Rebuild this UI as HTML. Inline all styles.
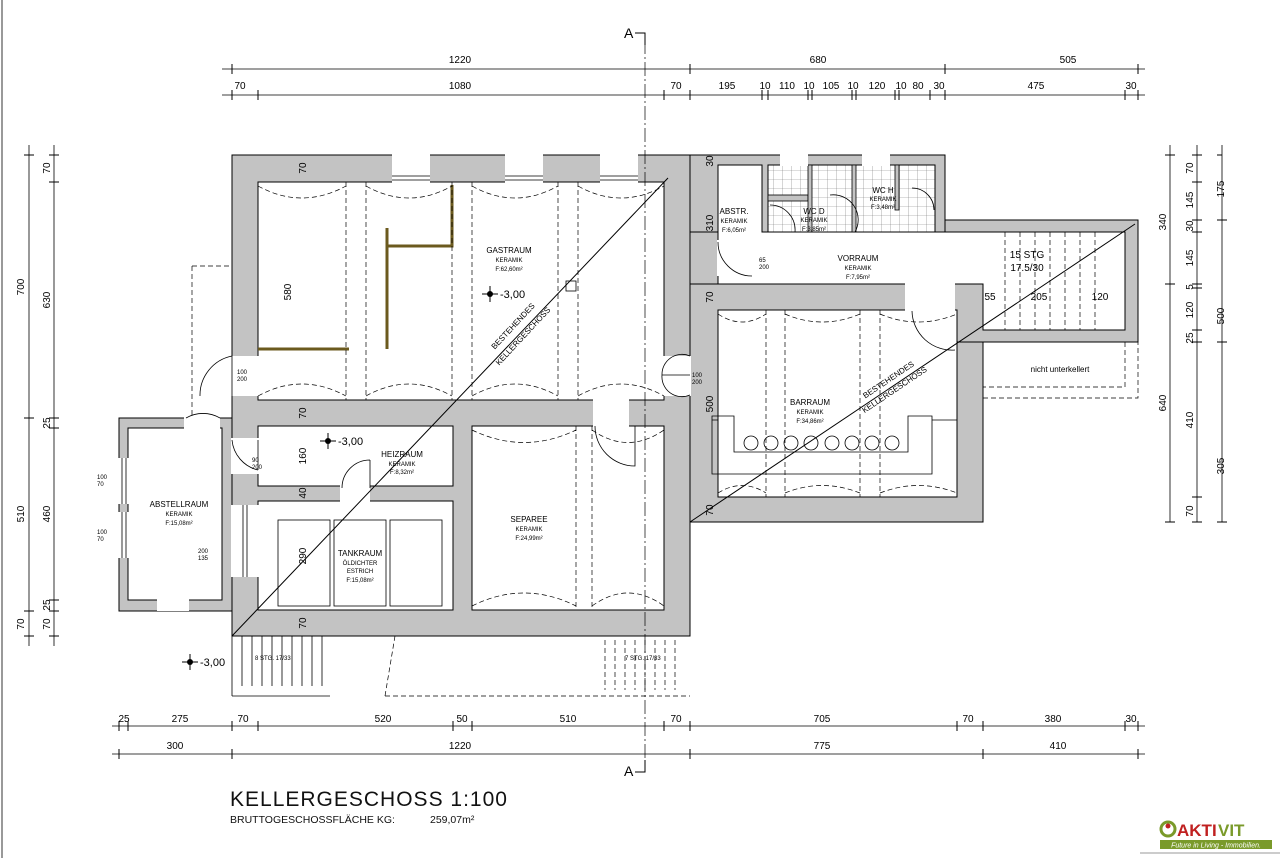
<!DOCTYPE html>
<html><head><meta charset="utf-8"><style>
html,body{margin:0;padding:0;background:#fff;}
svg{display:block;font-family:"Liberation Sans",sans-serif;}
</style></head><body>
<svg width="1280" height="858" viewBox="0 0 1280 858" xmlns="http://www.w3.org/2000/svg">
<defs>
<pattern id="tile" width="9" height="9" patternUnits="userSpaceOnUse"><rect width="9" height="9" fill="#fff"/><path d="M9 0V9M0 9H9" stroke="#777" stroke-width="0.6"/></pattern>
</defs>
<rect x="0" y="0" width="1280" height="858" fill="#fff"/>
<line x1="2" y1="0" x2="2" y2="858" stroke="#999" stroke-width="2"/>

<g fill="#c3c3c3" stroke="#000" stroke-width="1">
<rect x="232" y="155" width="458" height="481"/>
<rect x="690" y="155" width="255" height="80"/>
<rect x="690" y="232" width="28" height="60"/>
<rect x="690" y="284" width="293" height="238"/>
<rect x="945" y="220" width="193" height="122"/>
<rect x="119" y="418" width="113" height="193"/>
</g>
<g fill="#fff" stroke="#000" stroke-width="1">
<rect x="258" y="182" width="406" height="218"/>
<rect x="258" y="426" width="195" height="60"/>
<rect x="258" y="501" width="195" height="109"/>
<rect x="472" y="426" width="192" height="184"/>
<rect x="718" y="310" width="239" height="187"/>
<polygon points="718,165 762,165 762,232 983,232 983,232 1125,232 1125,330 983,330 983,284 718,284"/>
<rect x="128" y="428" width="94" height="172"/>
</g>
<rect x="768" y="165" width="167" height="67" fill="url(#tile)" stroke="#000"/>
<g fill="#c3c3c3" stroke="#000" stroke-width="0.8">
<rect x="768" y="195" width="40" height="6"/><rect x="808" y="165" width="4" height="67"/>
<rect x="852" y="165" width="4" height="67"/><rect x="895" y="165" width="4" height="45"/>
</g>
<g fill="#fff" stroke="none">
<rect x="231" y="356" width="28" height="40"/>
<rect x="663" y="356" width="28" height="40"/>
<rect x="392" y="154" width="38" height="29"/><rect x="505" y="154" width="38" height="29"/><rect x="600" y="154" width="38" height="29"/>
<rect x="780" y="154" width="28" height="12"/><rect x="862" y="154" width="28" height="12"/>
<rect x="184" y="417" width="36" height="12"/>
<rect x="231" y="438" width="28" height="36"/>
<rect x="340" y="485" width="30" height="17"/>
<rect x="593" y="399" width="36" height="28"/>
<rect x="157" y="599" width="32" height="12"/>
<rect x="118" y="458" width="12" height="46"/><rect x="118" y="512" width="12" height="46"/>
<rect x="231" y="505" width="28" height="72"/>
<rect x="717" y="240" width="3" height="36"/>
<rect x="905" y="283" width="50" height="28"/>
</g>
<g stroke="#000" stroke-width="0.8" fill="none">
<path d="M392 176H430M392 180H430M505 176H543M505 180H543M600 176H638M600 180H638"/>
<path d="M122 458V504M126 458V504M122 512V558M126 512V558M243 505V577M247 505V577"/>
<path d="M232 356 A40 40 0 0 0 200 396 M232 356 L232 396"/>
<path d="M690 356 A20 20 0 0 0 662 375 L690 375 M690 395 A20 20 0 0 1 662 375"/>
<path d="M220 418 A34 34 0 0 0 186 418"/>
<path d="M232 440 A34 34 0 0 0 258 470 M258 440 V470"/>
<path d="M370 460 A28 28 0 0 0 342 488 M370 460V488"/>
<path d="M595 426 A40 40 0 0 0 635 466 L635 426"/>
<path d="M718 242 A34 34 0 0 0 752 276"/>
<path d="M912 311 A40 40 0 0 0 955 350"/>
<path d="M770 205 A25 25 0 0 1 795 232 M830 195 A25 25 0 0 1 855 232 M912 188 A22 22 0 0 1 934 210"/>
</g>
<g stroke="#6b5a1e" stroke-width="3" fill="none">
<path d="M258 349H349M387 228V349M387 246H452V185"/>
</g>
<g stroke="#000" stroke-width="0.7" fill="none" stroke-dasharray="5,3">
<path d="M346 182V400M366 182V400M452 182V400M472 182V400M558 182V400M578 182V400"/>
<path d="M258 186 Q302 210 346 186 M366 186 Q409 210 452 186 M472 186 Q515 210 558 186 M578 186 Q621 210 664 186"/>
<path d="M258 396 Q302 372 346 396 M366 396 Q409 372 452 396 M472 396 Q515 372 558 396 M578 396 Q621 372 664 396"/>
<path d="M576 426V610M592 426V610 M472 430 Q524 455 576 430 M592 430 Q628 455 664 430 M472 606 Q524 580 576 606 M592 606 Q628 580 664 606"/>
<path d="M766 310V497M785 310V497M860 310V497M880 310V497M718 314 Q742 330 766 314 M785 314 Q822 330 860 314 M880 314 Q918 330 957 314 M718 493 Q742 478 766 493 M785 493 Q822 478 860 493 M880 493 Q918 478 957 493"/>
<path d="M192 266H232M192 266V418M983 342V398H1138V342M1125 342V387H983"/>
<path d="M1005 232V330M1020 232V330M1035 232V330M1050 232V330M1065 232V330M1080 232V330M1095 232V330"/>
<path d="M605 640V690M615 640V690M625 640V690M635 640V690M645 640V690M655 640V690M665 640V690M675 640V690M385 696H690M385 696L395 636"/>
</g>
<g stroke="#000" stroke-width="0.8" fill="none">
<path d="M232 696H330M232 636V696M242 636V686M252 636V686M262 636V686M272 636V686M282 636V686M292 636V686M302 636V686M312 636V686M322 636V686"/>
<path d="M712 416H734V452H908V416H932V474H712Z M718 420H712 M932 420H957"/>
<circle cx="751" cy="443" r="7"/><circle cx="771" cy="443" r="7"/><circle cx="791" cy="443" r="7"/><circle cx="811" cy="443" r="7"/><circle cx="832" cy="443" r="7"/><circle cx="852" cy="443" r="7"/><circle cx="872" cy="443" r="7"/><circle cx="892" cy="443" r="7"/>
<rect x="278" y="520" width="52" height="86"/><rect x="334" y="520" width="52" height="86"/><rect x="390" y="520" width="52" height="86"/>
<rect x="566" y="281" width="10" height="10"/>
</g>
<g stroke="#000" stroke-width="1">
<line x1="232" y1="636" x2="668" y2="178"/>
<line x1="690" y1="522" x2="1135" y2="224"/>
</g>
<g font-size="8" text-anchor="middle" fill="#000">
<text transform="translate(515,328) rotate(-47)">BESTEHENDES</text>
<text transform="translate(525,338) rotate(-47)">KELLERGESCHOSS</text>
<text transform="translate(890,382) rotate(-34)">BESTEHENDES</text>
<text transform="translate(896,392) rotate(-34)">KELLERGESCHOSS</text>
</g>
<line x1="645" y1="40" x2="645" y2="770" stroke="#000" stroke-width="0.7" stroke-dasharray="14,3,2,3"/>
<text x="624" y="38" font-size="14">A</text><path d="M635 33H645V45" stroke="#000" fill="none"/>
<text x="624" y="776" font-size="14">A</text><path d="M635 772H645V760" stroke="#000" fill="none"/>

<g text-anchor="middle" fill="#000">
<text x="509" y="253" font-size="8">GASTRAUM</text><text x="509" y="262" font-size="6">KERAMIK</text><text x="509" y="271" font-size="6">F:62,60m²</text>
<text x="402" y="457" font-size="8">HEIZRAUM</text><text x="402" y="466" font-size="6">KERAMIK</text><text x="402" y="474" font-size="6">F:8,32m²</text>
<text x="360" y="556" font-size="8">TANKRAUM</text><text x="360" y="565" font-size="6">ÖLDICHTER</text><text x="360" y="573" font-size="6">ESTRICH</text><text x="360" y="582" font-size="6">F:15,08m²</text>
<text x="529" y="522" font-size="8">SEPAREE</text><text x="529" y="531" font-size="6">KERAMIK</text><text x="529" y="540" font-size="6">F:24,99m²</text>
<text x="179" y="507" font-size="8">ABSTELLRAUM</text><text x="179" y="516" font-size="6">KERAMIK</text><text x="179" y="525" font-size="6">F:15,08m²</text>
<text x="810" y="405" font-size="8">BARRAUM</text><text x="810" y="414" font-size="6">KERAMIK</text><text x="810" y="423" font-size="6">F:34,86m²</text>
<text x="858" y="261" font-size="8">VORRAUM</text><text x="858" y="270" font-size="6">KERAMIK</text><text x="858" y="279" font-size="6">F:7,95m²</text>
<text x="734" y="214" font-size="8">ABSTR.</text><text x="734" y="223" font-size="6">KERAMIK</text><text x="734" y="232" font-size="6">F:6,05m²</text>
<text x="814" y="214" font-size="8">WC  D</text><text x="814" y="222" font-size="6">KERAMIK</text><text x="814" y="231" font-size="6">F:3,85m²</text>
<text x="883" y="193" font-size="8">WC  H</text><text x="883" y="201" font-size="6">KERAMIK</text><text x="883" y="209" font-size="6">F:3,48m²</text>
<text x="1060" y="372" font-size="8">nicht  unterkellert</text>
<text x="1027" y="258" font-size="10">15 STG</text><text x="1027" y="271" font-size="10">17.5/30</text>
<text x="990" y="300" font-size="10">55</text><text x="1039" y="300" font-size="10">205</text><text x="1100" y="300" font-size="10">120</text>
</g>
<g font-size="11" fill="#000">
<circle cx="490" cy="294" r="3"/><path d="M482 294H498M490 286V302" stroke="#000"/><text x="500" y="298">-3,00</text>
<circle cx="328" cy="441" r="3"/><path d="M320 441H336M328 433V449" stroke="#000"/><text x="338" y="445">-3,00</text>
<circle cx="190" cy="662" r="3"/><path d="M182 662H198M190 654V670" stroke="#000"/><text x="200" y="666">-3,00</text>
</g>
<g font-size="6" fill="#000">
<text x="255" y="660">8 STG. 17/33</text><text x="625" y="660">7 STG. 17/33</text>
<text x="237" y="374">100</text><text x="237" y="381">200</text>
<text x="692" y="377">100</text><text x="692" y="384">200</text>
<text x="198" y="553">200</text><text x="198" y="560">135</text>
<text x="97" y="479">100</text><text x="97" y="486">70</text><text x="97" y="534">100</text><text x="97" y="541">70</text>
<text x="252" y="462">90</text><text x="252" y="469">200</text>
<text x="759" y="262">65</text><text x="759" y="269">200</text>
</g>
<g font-size="10" fill="#000" text-anchor="middle">
<text transform="translate(306,168) rotate(-90)">70</text>
<text transform="translate(291,292) rotate(-90)">580</text>
<text transform="translate(306,413) rotate(-90)">70</text>
<text transform="translate(306,456) rotate(-90)">160</text>
<text transform="translate(306,493) rotate(-90)">40</text>
<text transform="translate(306,556) rotate(-90)">290</text>
<text transform="translate(306,623) rotate(-90)">70</text>
<text transform="translate(713,223) rotate(-90)">310</text>
<text transform="translate(713,297) rotate(-90)">70</text>
<text transform="translate(713,404) rotate(-90)">500</text>
<text transform="translate(713,510) rotate(-90)">70</text>
<text transform="translate(713,161) rotate(-90)">30</text>
</g>
<g stroke="#000" stroke-width="0.8" fill="none">
<path d="M222 69H1145M222 95H1145M112 726H1145M112 754H1145M29 145V646M54 145V646M1170 145V522M1197 145V522M1222 145V522"/>
</g>
<g stroke="#000" stroke-width="1">
<path d="M232 64V74M690 64V74M945 64V74M1138 64V74"/>
<path d="M232 90V100M258 90V100M664 90V100M690 90V100M762 90V100M768 90V100M808 90V100M812 90V100M852 90V100M856 90V100M895 90V100M899 90V100M930 90V100M945 90V100M1125 90V100M1138 90V100"/>
<path d="M119 721V731M128 721V731M232 721V731M258 721V731M453 721V731M472 721V731M664 721V731M690 721V731M957 721V731M983 721V731M1125 721V731M1138 721V731"/>
<path d="M119 749V759M232 749V759M690 749V759M983 749V759M1138 749V759"/>
<path d="M24 155H34M24 418H34M24 611H34M24 636H34"/>
<path d="M49 155H59M49 182H59M49 418H59M49 428H59M49 600H59M49 611H59M49 636H59"/>
<path d="M1165 155H1175M1165 284H1175M1165 522H1175"/>
<path d="M1192 155H1202M1192 182H1202M1192 220H1202M1192 232H1202M1192 284H1202M1192 288H1202M1192 330H1202M1192 342H1202M1192 497H1202M1192 522H1202"/>
<path d="M1217 155H1222M1217 220H1227M1217 342H1227M1217 522H1227"/>
</g>
<g font-size="10" fill="#000" text-anchor="middle">
<text x="460" y="63">1220</text><text x="818" y="63">680</text><text x="1068" y="63">505</text>
<text x="240" y="89">70</text><text x="460" y="89">1080</text><text x="676" y="89">70</text><text x="727" y="89">195</text><text x="765" y="89">10</text><text x="787" y="89">110</text><text x="809" y="89">10</text><text x="831" y="89">105</text><text x="853" y="89">10</text><text x="877" y="89">120</text><text x="901" y="89">10</text><text x="918" y="89">80</text><text x="939" y="89">30</text><text x="1036" y="89">475</text><text x="1131" y="89">30</text>
<text x="124" y="722">25</text><text x="180" y="722">275</text><text x="243" y="722">70</text><text x="383" y="722">520</text><text x="462" y="722">50</text><text x="568" y="722">510</text><text x="676" y="722">70</text><text x="822" y="722">705</text><text x="968" y="722">70</text><text x="1053" y="722">380</text><text x="1131" y="722">30</text>
<text x="175" y="749">300</text><text x="460" y="749">1220</text><text x="822" y="749">775</text><text x="1058" y="749">410</text>
<text transform="translate(24,287) rotate(-90)">700</text><text transform="translate(24,514) rotate(-90)">510</text><text transform="translate(24,624) rotate(-90)">70</text>
<text transform="translate(50,168) rotate(-90)">70</text><text transform="translate(50,300) rotate(-90)">630</text><text transform="translate(50,423) rotate(-90)">25</text><text transform="translate(50,514) rotate(-90)">460</text><text transform="translate(50,605) rotate(-90)">25</text><text transform="translate(50,624) rotate(-90)">70</text>
<text transform="translate(1166,222) rotate(-90)">340</text><text transform="translate(1166,403) rotate(-90)">640</text>
<text transform="translate(1193,168) rotate(-90)">70</text><text transform="translate(1193,200) rotate(-90)">145</text><text transform="translate(1193,226) rotate(-90)">30</text><text transform="translate(1193,258) rotate(-90)">145</text><text transform="translate(1193,287) rotate(-90)">5</text><text transform="translate(1193,310) rotate(-90)">120</text><text transform="translate(1193,338) rotate(-90)">25</text><text transform="translate(1193,420) rotate(-90)">410</text><text transform="translate(1193,511) rotate(-90)">70</text>
<text transform="translate(1224,189) rotate(-90)">175</text><text transform="translate(1224,316) rotate(-90)">500</text><text transform="translate(1224,466) rotate(-90)">305</text>
</g>
<text x="230" y="806" font-size="21" fill="#111" letter-spacing="1">KELLERGESCHOSS 1:100</text>
<text x="230" y="823" font-size="10.5" fill="#111">BRUTTOGESCHOSSFLÄCHE KG:</text>
<text x="430" y="823" font-size="10.5" fill="#111">259,07m²</text>
<circle cx="1168" cy="829" r="7" fill="none" stroke="#7a9a2a" stroke-width="3"/>
<circle cx="1168" cy="826" r="2.5" fill="#c02020"/>
<text x="1177" y="836" font-size="17" font-weight="bold" fill="#c02020">AKTI</text><text x="1218" y="836" font-size="17" font-weight="bold" fill="#7a9a2a">VIT</text>
<rect x="1160" y="840" width="112" height="9" fill="#7a9a2a"/>
<text x="1216" y="847.5" font-size="7" font-style="italic" fill="#fff" text-anchor="middle">Future in Living - Immobilien.</text>
<line x1="1140" y1="853" x2="1280" y2="853" stroke="#999"/>
</svg>
</body></html>
